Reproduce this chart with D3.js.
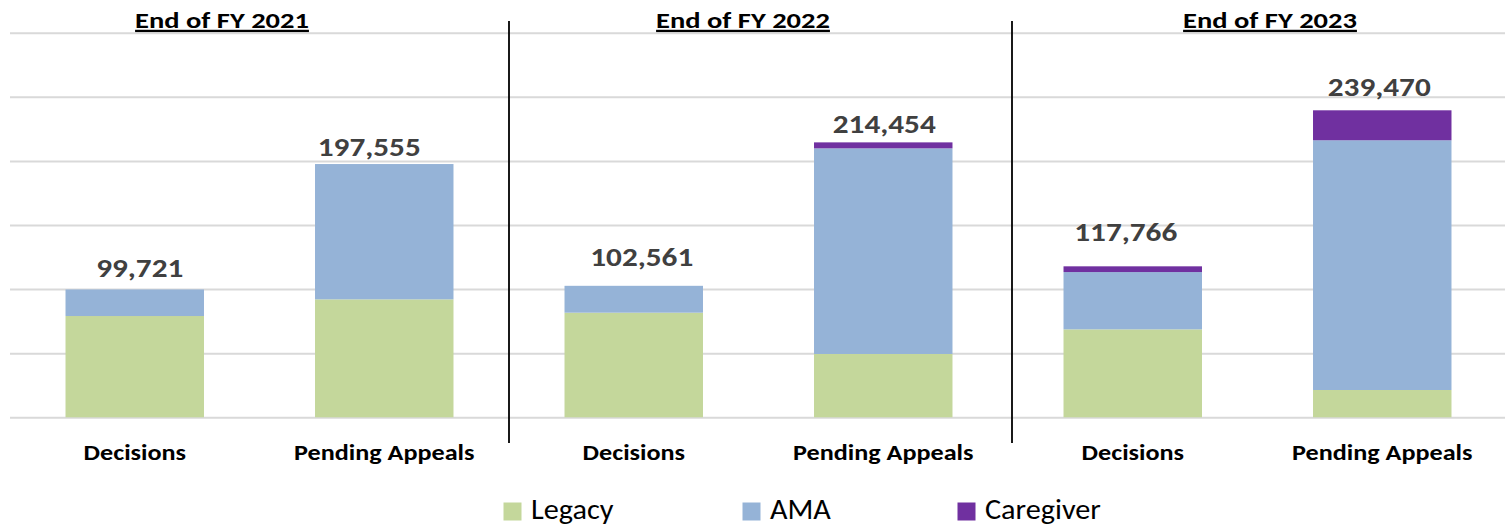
<!DOCTYPE html>
<html>
<head>
<meta charset="utf-8">
<script src="https://cdn.jsdelivr.net/npm/d3@7"></script>
<style>
  body { margin: 0; background: #fff; }
  text { font-family: Carlito, Lato, "Open Sans", sans-serif; }
</style>
</head>
<body>
<div id="chart"></div>
<script>
// data
const groups = ["End of FY 2021", "End of FY 2022", "End of FY 2023"];
const categories = ["Decisions", "Pending Appeals"];
const seriesNames = ["Legacy", "AMA", "Caregiver"];
const legacy    = [79000, 92000, 81600, 49400, 68600, 21300];
const ama       = [20721, 105555, 20961, 160400, 44700, 194800];
const caregiver = [0, 0, 0, 4654, 4466, 23370];
const totals    = [99721, 197555, 102561, 214454, 117766, 239470];
const yTicks    = [0, 50000, 100000, 150000, 200000, 250000, 300000];

const colors = { "Legacy": "#c4d79b", "AMA": "#95b3d7", "Caregiver": "#7030a0" };

const width = 1505, height = 527;
const plot = { left: 10, right: 1507, top: 32.7, bottom: 417.3 };

// label placement as in the source (hand placed text boxes)
const labelNudge = [[5, 12], [-15, 8], [8, 20], [1, 9], [-7, 25], [-3, 14]];
const titleX = [222, 743, 1270];
const separatorX = [509, 1012];
const legendX = [503.5, 742.5, 957.5];

const svg = d3.select("#chart").append("svg")
  .attr("width", width)
  .attr("height", height);

// text in the source is a little wider than Lato, so stretch it horizontally
function place(px, py, sx) {
  return `translate(${px},${py}) scale(${sx},1)`;
}

const rows = totals.map((t, i) => ({
  key: i,
  group: groups[Math.floor(i / 2)],
  category: categories[i % 2],
  Legacy: legacy[i], AMA: ama[i], Caregiver: caregiver[i], total: t
}));

const x = d3.scaleBand()
  .domain(rows.map(d => d.key))
  .range([plot.left, plot.right])
  .paddingInner(0.445)
  .paddingOuter(0.2225);

const y = d3.scaleLinear()
  .domain([0, 300000])
  .range([plot.bottom, plot.top]);

// gridlines
svg.append("g")
  .attr("transform", `translate(${plot.left},0)`)
  .call(d3.axisLeft(y).tickValues(yTicks).tickSize(-(width - plot.left)).tickFormat(""))
  .call(g => g.select(".domain").remove())
  .call(g => g.selectAll("line").attr("stroke", "#d9d9d9").attr("stroke-width", 2));

// stacked bars
const stack = d3.stack().keys(seriesNames)(rows);
svg.append("g").selectAll("g")
  .data(stack)
  .join("g")
  .attr("fill", s => colors[s.key])
  .selectAll("rect")
  .data(s => s)
  .join("rect")
  .attr("x", d => x(d.data.key))
  .attr("width", x.bandwidth())
  .attr("y", d => y(d[1]))
  .attr("height", d => y(d[0]) - y(d[1]));

// separators between fiscal years
svg.append("g").selectAll("line")
  .data(separatorX)
  .join("line")
  .attr("x1", d => d).attr("x2", d => d)
  .attr("y1", 21).attr("y2", 443)
  .attr("stroke", "#000")
  .attr("stroke-width", 1.8);

// total labels
svg.append("g").selectAll("text")
  .data(rows)
  .join("text")
  .attr("transform", d => place(x(d.key) + x.bandwidth() / 2 + labelNudge[d.key][0],
                                y(d.total) - labelNudge[d.key][1], 1.2))
  .attr("text-anchor", "middle")
  .attr("font-size", 26)
  .attr("font-weight", "bold")
  .attr("fill", "#404040")
  .text(d => d3.format(",")(d.total));

// category labels
svg.append("g").selectAll("text")
  .data(rows)
  .join("text")
  .attr("transform", d => place(x(d.key) + x.bandwidth() / 2, 460, 1.19))
  .attr("text-anchor", "middle")
  .attr("font-size", 22)
  .attr("font-weight", "bold")
  .attr("fill", "#000")
  .text(d => d.category);

// group titles
svg.append("g").selectAll("text")
  .data(groups)
  .join("text")
  .attr("transform", (d, i) => place(titleX[i], 28, 1.24))
  .attr("text-anchor", "middle")
  .attr("font-size", 23)
  .attr("font-weight", "bold")
  .attr("fill", "#000")
  .style("text-decoration", "underline")
  .text(d => d);

// legend
const legend = svg.append("g").selectAll("g")
  .data(seriesNames)
  .join("g")
  .attr("transform", (d, i) => `translate(${legendX[i]},0)`);

legend.append("rect")
  .attr("x", 0).attr("y", 502.5)
  .attr("width", 18).attr("height", 18)
  .attr("fill", d => colors[d]);

legend.append("text")
  .attr("transform", place(27.5, 518.5, 1.08))
  .attr("font-size", 28)
  .attr("fill", "#000")
  .text(d => d);
</script>
</body>
</html>
